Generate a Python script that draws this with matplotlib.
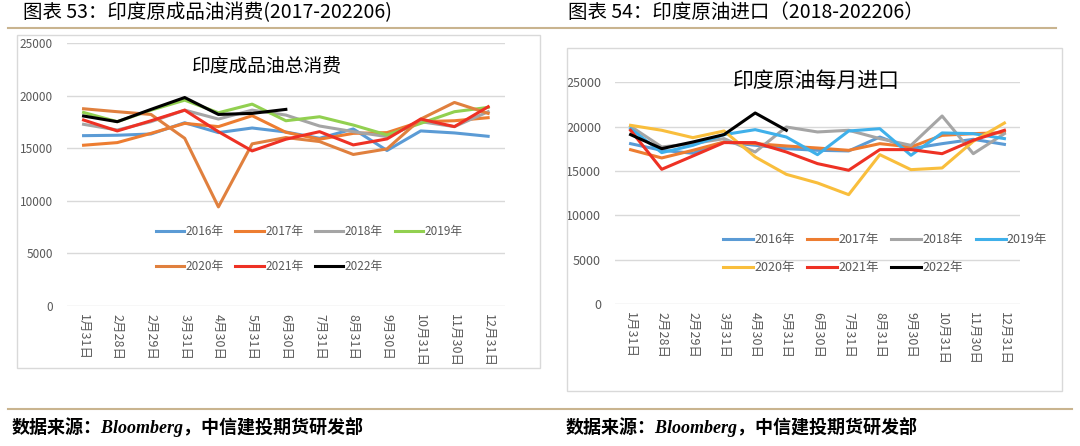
import matplotlib
matplotlib.use('Agg')
import matplotlib.pyplot as plt
from matplotlib.patches import Rectangle
from matplotlib.lines import Line2D

plt.rcParams['font.family'] = ['Noto Sans CJK SC', 'DejaVu Sans']

# 横轴日期
dates = ['1月31日', '2月28日', '2月29日', '3月31日', '4月30日', '5月31日', '6月30日',
         '7月31日', '8月31日', '9月30日', '10月31日', '11月30日', '12月31日']
years = ['2016年', '2017年', '2018年', '2019年', '2020年', '2021年', '2022年']

# 图表53 印度成品油总消费
cons_2016 = [16210, 16250, 16370, 17440, 16500, 16940, 16560, 15960, 16850, 14800, 16660, 16470, 16150]
cons_2017 = [15300, 15550, 16430, 17380, 17070, 18110, 16530, 15870, 16430, 16500, 17540, 17630, 17920]
cons_2018 = [17290, 16750, 17540, 18640, 17790, 18640, 18170, 17130, 16590, 16120, 17540, 17070, 18490]
cons_2019 = [18420, 17540, 18640, 19590, 18390, 19210, 17630, 18010, 17220, 16280, 17380, 18490, 18900]
cons_2020 = [18770, 18490, 18230, 15960, 9430, 15430, 16030, 15650, 14420, 14950, 17790, 19370, 18330]
cons_2021 = [17700, 16660, 17630, 18640, 16590, 14760, 15870, 16590, 15330, 15900, 17790, 17070, 18960]
cons_2022 = [18080, 17540, 18710, 19840, 18230, 18330, 18710]

# 图表54 印度原油每月进口
imp_2016 = [18080, 17330, 17000, 18270, 17900, 17520, 17330, 17260, 18830, 17520, 18080, 18570, 18000]
imp_2017 = [17400, 16470, 17330, 18270, 18080, 17820, 17590, 17330, 18080, 17710, 19020, 19210, 19320]
imp_2018 = [20040, 17710, 18080, 18650, 17140, 19960, 19400, 19590, 18650, 17890, 21200, 16950, 19210]
imp_2019 = [19770, 17070, 17890, 19100, 19660, 18830, 16840, 19510, 19770, 16770, 19290, 19210, 18650]
imp_2020 = [20150, 19590, 18760, 19510, 16580, 14620, 13650, 12330, 16840, 15150, 15340, 18350, 20410]
imp_2021 = [19590, 15190, 16690, 18200, 18200, 17140, 15830, 15080, 17410, 17410, 16950, 18460, 19590]
imp_2022 = [19100, 17520, 18270, 19100, 21540, 19590]

left_colors = ['#5B9BD5', '#ED7D31', '#A5A5A5', '#92D050', '#E0803E', '#EE3124', '#000000']
right_colors = ['#5B9BD5', '#ED7D31', '#A5A5A5', '#3FB0EA', '#F9BE3C', '#EE3124', '#000000']

W, H = 1080, 446
fig = plt.figure(figsize=(10.8, 4.46), dpi=100)


def fx(px):
    return px / W


def fy(py):
    return 1 - py / H


# 标题栏和分隔线
fig.add_artist(Line2D([fx(8), fx(1056)], [fy(28), fy(28)], color='#C9B48F', lw=1.5))
fig.add_artist(Line2D([fx(8), fx(1072)], [fy(409), fy(409)], color='#C9B48F', lw=1.5))
fig.text(fx(23), fy(13), '图表 53：印度原成品油消费(2017-202206)', fontsize=14, va='center')
fig.text(fx(568), fy(13), '图表 54：印度原油进口（2018-202206）', fontsize=14, va='center')
foot = '数据来源：Bloomberg，中信建投期货研发部'
for x0 in [12, 566]:
    fig.text(fx(x0), fy(427), foot, fontsize=13, va='center', fontweight='bold',
             style='italic', family=['Liberation Serif', 'Noto Sans CJK SC'])

# 图表外框
fig.add_artist(Rectangle((fx(17), fy(368)), fx(523), 333 / H, fill=False,
                         edgecolor='#D9D9D9', lw=1))
fig.add_artist(Rectangle((fx(567), fy(391)), fx(495), 343 / H, fill=False,
                         edgecolor='#D9D9D9', lw=1))


def draw(ax, series, colors, title, title_xy, title_size, fs, xfs, leg_anchor, colspace, labspace):
    x = range(len(dates))
    for vals, c, lab in zip(series, colors, years):
        ax.plot(list(x)[:len(vals)], vals, color=c, lw=2.2, label=lab)
    ax.set_xlim(-0.5, len(dates) - 0.5)
    ax.set_ylim(0, 25000)
    ax.set_yticks(range(0, 25001, 5000))
    ax.set_xticks(list(x))
    ax.set_xticklabels(dates, rotation=-90, fontsize=xfs, color='#595959')
    ax.tick_params(axis='y', labelsize=fs, colors='#595959', length=0, pad=10)
    ax.tick_params(axis='x', length=0, pad=6)
    ax.grid(axis='y', color='#D9D9D9', lw=1)
    ax.set_axisbelow(True)
    for s in ax.spines.values():
        s.set_visible(False)
    fig.text(fx(title_xy[0]), fy(title_xy[1]), title, fontsize=title_size,
             ha='center', va='center')
    h, l = ax.get_legend_handles_labels()
    order = [0, 4, 1, 5, 2, 6, 3]
    ax.legend([h[i] for i in order], [l[i] for i in order], ncol=4, loc='center',
              bbox_to_anchor=leg_anchor, frameon=False, fontsize=fs,
              handlelength=2.4, handletextpad=0.1, columnspacing=colspace,
              labelspacing=labspace, labelcolor='#595959')


ax1 = fig.add_axes([fx(66.7), fy(306), fx(438.3), 262.7 / H])
draw(ax1, [cons_2016, cons_2017, cons_2018, cons_2019, cons_2020, cons_2021, cons_2022],
     left_colors, '印度成品油总消费', (266.7, 66), 13.5, 8.5, 9, (0.553, 0.217), 1.0, 1.9)

ax2 = fig.add_axes([fx(615), fy(304), fx(405), 221.7 / H])
draw(ax2, [imp_2016, imp_2017, imp_2018, imp_2019, imp_2020, imp_2021, imp_2022],
     right_colors, '印度原油每月进口', (816.7, 80.7), 15, 9, 9, (0.667, 0.227), 1.0, 1.2)

fig.savefig('out.png', dpi=100)
